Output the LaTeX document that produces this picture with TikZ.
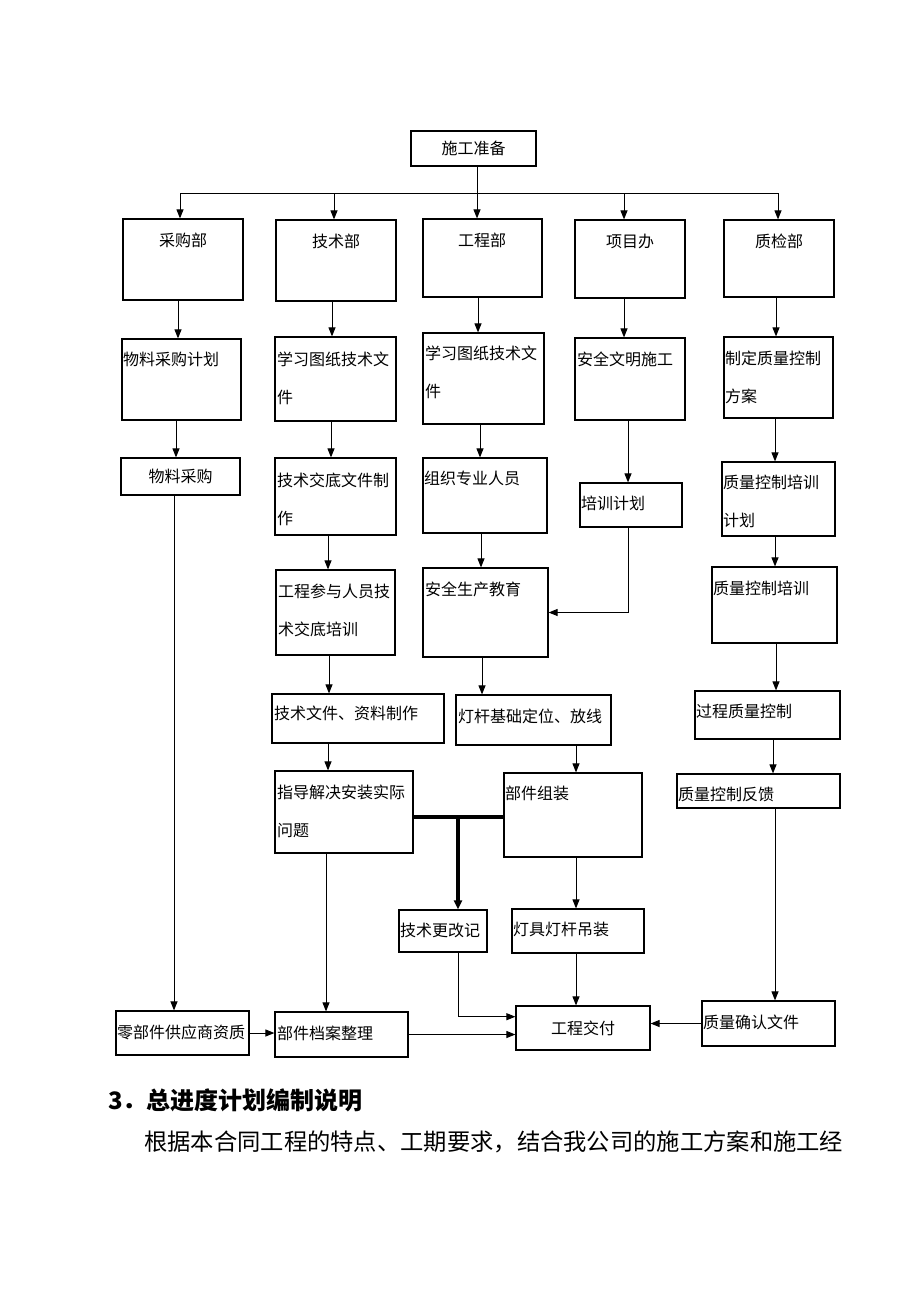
\documentclass[tikz,border=0pt]{standalone}
\usepackage{fontspec}
\setmainfont{Noto Sans CJK SC}
\usetikzlibrary{arrows.meta,fit,calc}

\tikzset{
  box/.style={draw, line width=1.2pt, inner sep=0pt},
  txt/.style={inner sep=0pt, anchor=west, align=left, font=\fontsize{16}{38}\selectfont},
  ctxt/.style={txt, anchor=center},
  ln/.style={line width=1pt},
  arr/.style={line width=1pt, -{Triangle[length=9pt,width=7pt]}},
  heavy/.style={line width=3.5pt},
}

\begin{document}
\begin{tikzpicture}[x=1pt,y=-1pt]
\useasboundingbox (0,0) rectangle (920,1302);
% top
\node[box, fit={(411,131) (536,166)}] (sgzb) {};
\node[ctxt] (sgzb-t) at (sgzb) {施工准备};
% departments
\node[box, fit={(123,219) (243,300)}] (cgb) {};
\node[ctxt] (cgb-t) at (183,240) {采购部};
\node[box, fit={(276,220) (396,301)}] (jsb) {};
\node[ctxt] (jsb-t) at (336,241) {技术部};
\node[box, fit={(423,219) (542,297)}] (gcb) {};
\node[ctxt] (gcb-t) at (482,240) {工程部};
\node[box, fit={(575,220) (685,298)}] (xmb) {};
\node[ctxt] (xmb-t) at (630,241) {项目办};
\node[box, fit={(724,220) (834,297)}] (zjb) {};
\node[ctxt] (zjb-t) at (779,241) {质检部};
% row 2
\node[box, fit={(122,339) (241,420)}] (wljh) {};
\node[txt] (wljh-t) at (123,359) {物料采购计划};
\node[box, fit={(275,337) (396,421)}] (xxtz1) {};
\node[txt] (xxtz1-t) at (277,378) {学习图纸技术文\\件};
\node[box, fit={(423,333) (544,424)}] (xxtz2) {};
\node[txt] (xxtz2-t) at (425,372) {学习图纸技术文\\件};
\node[box, fit={(575,338) (685,420)}] (aqwm) {};
\node[txt] (aqwm-t) at (577,359) {安全文明施工};
\node[box, fit={(724,337) (833,418)}] (zdfa) {};
\node[txt] (zdfa-t) at (725,377) {制定质量控制\\方案};
% row 3
\node[box, fit={(121,458) (240,495)}] (wlcg) {};
\node[ctxt] (wlcg-t) at (wlcg) {物料采购};
\node[box, fit={(275,458) (396,535)}] (jsjd) {};
\node[txt] (jsjd-t) at (277,499) {技术交底文件制\\作};
\node[box, fit={(423,458) (547,533)}] (zzry) {};
\node[txt] (zzry-t) at (424,478) {组织专业人员};
\node[box, fit={(580,483) (682,527)}] (pxjh) {};
\node[txt] (pxjh-t) at (581,503) {培训计划};
\node[box, fit={(722,462) (835,536)}] (zlpxjh) {};
\node[txt] (zlpxjh-t) at (723,501) {质量控制培训\\计划};
% row 4
\node[box, fit={(276,570) (395,655)}] (jspx) {};
\node[txt] (jspx-t) at (278,610) {工程参与人员技\\术交底培训};
\node[box, fit={(423,568) (548,657)}] (aqjy) {};
\node[txt] (aqjy-t) at (425,589) {安全生产教育};
\node[box, fit={(712,567) (837,643)}] (zlpx) {};
\node[txt] (zlpx-t) at (713,588) {质量控制培训};
% row 5
\node[box, fit={(272,694) (444,743)}] (jswj) {};
\node[txt] (jswj-t) at (274,713) {技术文件、资料制作};
\node[box, fit={(456,695) (611,745)}] (dgdw) {};
\node[txt] (dgdw-t) at (458,716) {灯杆基础定位、放线};
\node[box, fit={(695,691) (840,739)}] (gczl) {};
\node[txt] (gczl-t) at (696,711) {过程质量控制};
% row 6
\node[box, fit={(275,771) (413,853)}] (zdjj) {};
\node[txt] (zdjj-t) at (277,811) {指导解决安装实际\\问题};
\node[box, fit={(504,773) (642,857)}] (bjzz) {};
\node[txt] (bjzz-t) at (505,793) {部件组装};
\node[box, fit={(677,774) (840,808)}] (zlfk) {};
\node[txt] (zlfk-t) at (678,794) {质量控制反馈};
% row 7
\node[box, fit={(399,910) (487,952)}] (jsgg) {};
\node[txt] (jsgg-t) at (400,930) {技术更改记};
\node[box, fit={(512,909) (644,953)}] (djdg) {};
\node[txt] (djdg-t) at (513,929) {灯具灯杆吊装};
% row 8
\node[box, fit={(116,1011) (249,1055)}] (lbj) {};
\node[txt] (lbj-t) at (117,1032) {零部件供应商资质};
\node[box, fit={(275,1012) (408,1057)}] (bjda) {};
\node[txt] (bjda-t) at (277,1033) {部件档案整理};
\node[box, fit={(516,1006) (650,1050)}] (gcjf) {};
\node[ctxt] (gcjf-t) at (gcjf) {工程交付};
\node[box, fit={(702,1001) (835,1046)}] (zlqr) {};
\node[txt] (zlqr-t) at (703,1022) {质量确认文件};

% bus
\coordinate (bus) at (0,193);
\draw[arr] (sgzb.south -| 477,0) -- (gcb.north -| 477,0);
\draw[ln] (180,0 |- bus) -- (778,0 |- bus);
\foreach \n/\x in {cgb/180, jsb/334, xmb/624, zjb/778}
  \draw[arr] (bus -| \x,0) -- (\n.north -| \x,0);

% columns
\foreach \a/\b/\x in {cgb/wljh/178, wljh/wlcg/176, wlcg/lbj/174,
                   jsb/xxtz1/332, xxtz1/jsjd/331, jsjd/jspx/328, jspx/jswj/329, jswj/zdjj/328, zdjj/bjda/326,
                   gcb/xxtz2/478, xxtz2/zzry/480, zzry/aqjy/481, aqjy/dgdw/482, dgdw/bjzz/576, bjzz/djdg/576, djdg/gcjf/576,
                   xmb/aqwm/624, aqwm/pxjh/628,
                   zjb/zdfa/776, zdfa/zlpxjh/775, zlpxjh/zlpx/775, zlpx/gczl/776, gczl/zlfk/773, zlfk/zlqr/775}
  \draw[arr] (\a.south -| \x,0) -- (\b.north -| \x,0);
\draw[arr] (pxjh.south -| 628,0) |- (aqjy.east);

% change record branch
\coordinate (jn) at (458,817);
\draw[heavy] (zdjj.east |- jn) -- (bjzz.west |- jn);
\draw[heavy, -{Triangle[length=9pt,width=8pt]}] (jn) -- (jn |- jsgg.north);
\draw[arr] (jsgg.south -| jn) |- ($(gcjf.north west)!0.25!(gcjf.south west)$);

% bottom row
\draw[arr] (lbj.east) -- (lbj.east -| bjda.west);
\draw[arr] (bjda.east) -- (bjda.east -| gcjf.west);
\draw[arr] (zlqr.west) -- (zlqr.west -| gcjf.east);

% text below
\node[anchor=west, inner sep=0pt, font=\fontsize{24}{24}\selectfont\bfseries] (sec) at (108,1100) {3．总进度计划编制说明};
\node[anchor=west, inner sep=0pt, font=\fontsize{23.3}{24}\selectfont] (para) at (144,1142) {根据本合同工程的特点、工期要求，结合我公司的施工方案和施工经};
\end{tikzpicture}
\end{document}
